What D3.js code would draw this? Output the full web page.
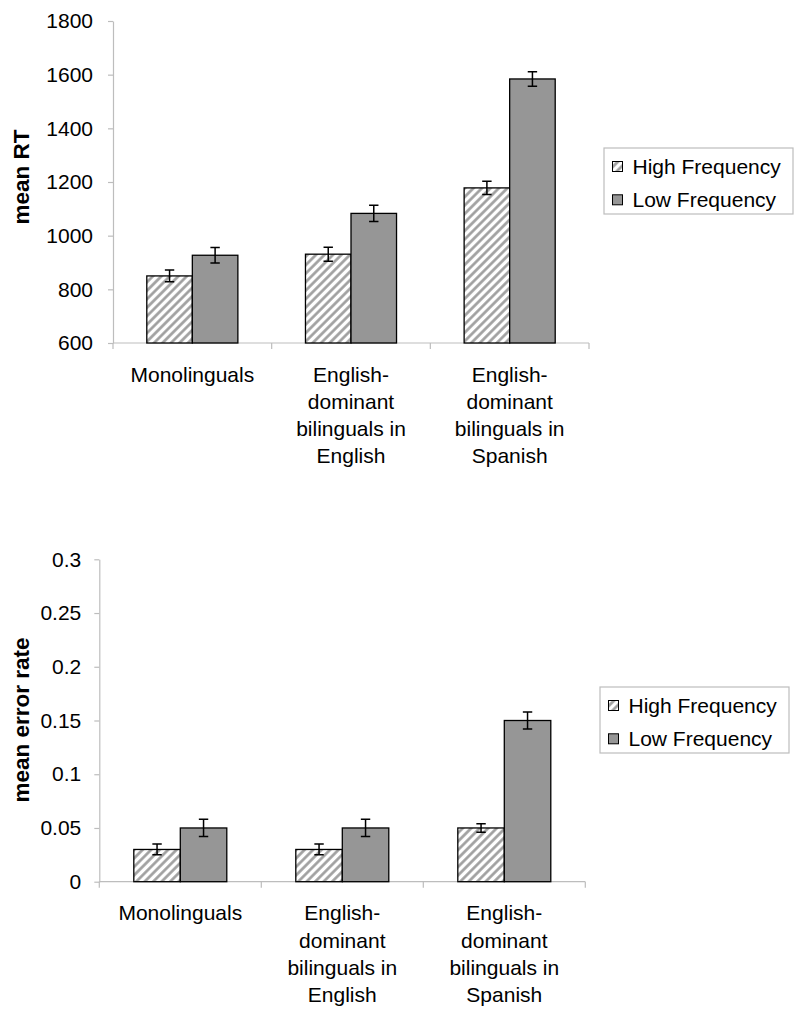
<!DOCTYPE html>
<html>
<head>
<meta charset="utf-8">
<script src="https://cdn.jsdelivr.net/npm/d3@7"></script>
<style>
  body { margin: 0; background: #fff; }
  text { font-family: "Liberation Sans", Arial, sans-serif; fill: #000; }
</style>
</head>
<body>
<svg id="chart" width="800" height="1015"></svg>
<script>
// data
const categories = [
    ['Monolinguals'],
    ['English-', 'dominant', 'bilinguals in', 'English'],
    ['English-', 'dominant', 'bilinguals in', 'Spanish']
];
const seriesNames = ['High Frequency', 'Low Frequency'];

const rtHigh = [850, 931, 1178];
const rtHighErr = [22, 26, 25];
const rtLow = [927, 1083, 1584];
const rtLowErr = [29, 30, 27];
const rtTicks = [600, 800, 1000, 1200, 1400, 1600, 1800];

const errHigh = [0.03, 0.03, 0.05];
const errHighErr = [0.005, 0.005, 0.004];
const errLow = [0.05, 0.05, 0.15];
const errLowErr = [0.008, 0.008, 0.008];
const errTicks = [0, 0.05, 0.1, 0.15, 0.2, 0.25, 0.3];

const axisColor = '#bdbdbd';
const grayFill = '#969696';
const fontSize = 21;

const svg = d3.select('#chart');

// diagonal hatch for the high frequency bars
const defs = svg.append('defs');
defs.append('pattern')
    .attr('id', 'hatch')
    .attr('patternUnits', 'userSpaceOnUse')
    .attr('width', 6)
    .attr('height', 6)
    .attr('patternTransform', 'rotate(45)')
    .call(p => {
        p.append('rect').attr('width', 6).attr('height', 6).attr('fill', '#fff');
        p.append('line')
            .attr('x1', 1.5).attr('y1', 0).attr('x2', 1.5).attr('y2', 6)
            .attr('stroke', '#9c9c9c').attr('stroke-width', 2.6);
    });

const drawPanel = (p) => {
    const g = svg.append('g');

    const x0 = d3.scaleBand()
        .domain(d3.range(categories.length))
        .range([p.left, p.right]);
    const bw = x0.bandwidth();
    const x1 = d3.scaleBand()
        .domain(seriesNames)
        .range([bw * 0.213, bw * 0.787]);
    const y = d3.scaleLinear()
        .domain([p.ticks[0], p.ticks[p.ticks.length - 1]])
        .range([p.bottom, p.top]);

    // y axis
    const yAxis = d3.axisLeft(y)
        .tickValues(p.ticks)
        .tickSize(5)
        .tickSizeOuter(0)
        .tickPadding(p.pad)
        .tickFormat(p.fmt);
    const ya = g.append('g')
        .attr('transform', `translate(${p.left},0)`)
        .call(yAxis);
    ya.select('.domain').attr('stroke', axisColor).attr('stroke-width', 1.2);
    ya.selectAll('.tick line').attr('stroke', axisColor).attr('stroke-width', 1.2);
    ya.selectAll('.tick text')
        .attr('font-size', fontSize)
        .attr('font-family', '"Liberation Sans", Arial, sans-serif')
        .attr('fill', '#000');

    // x axis line and category boundary ticks
    g.append('line')
        .attr('x1', p.left).attr('x2', p.right)
        .attr('y1', p.bottom).attr('y2', p.bottom)
        .attr('stroke', axisColor).attr('stroke-width', 1.2);
    const bounds = d3.range(categories.length + 1).map(i => i < categories.length ? x0(i) : p.right);
    g.selectAll('.xtick')
        .data(bounds)
        .enter()
        .append('line')
        .attr('x1', d => d).attr('x2', d => d)
        .attr('y1', p.bottom).attr('y2', p.bottom + 6)
        .attr('stroke', axisColor).attr('stroke-width', 1.2);

    // bars
    const rows = categories.map((c, i) => [
        { i, s: seriesNames[0], v: p.high[i], e: p.highErr[i] },
        { i, s: seriesNames[1], v: p.low[i], e: p.lowErr[i] }
    ]);
    const groups = g.selectAll('.grp')
        .data(rows)
        .enter()
        .append('g')
        .attr('transform', (d, i) => `translate(${x0(i)},0)`);

    groups.selectAll('rect')
        .data(d => d)
        .enter()
        .append('rect')
        .attr('x', d => x1(d.s))
        .attr('y', d => y(d.v))
        .attr('width', x1.bandwidth())
        .attr('height', d => p.bottom - y(d.v))
        .attr('fill', d => d.s === seriesNames[0] ? 'url(#hatch)' : grayFill)
        .attr('stroke', '#000')
        .attr('stroke-width', 1.3);

    // error bars
    const cap = 4.7;
    groups.selectAll('.err')
        .data(d => d)
        .enter()
        .append('path')
        .attr('d', d => {
            const cx = x1(d.s) + x1.bandwidth() / 2;
            const y1 = y(d.v + d.e), y2 = y(d.v - d.e);
            return `M${cx},${y1}V${y2}M${cx - cap},${y1}H${cx + cap}M${cx - cap},${y2}H${cx + cap}`;
        })
        .attr('fill', 'none')
        .attr('stroke', '#000')
        .attr('stroke-width', 1.5);

    // category labels
    const labels = g.selectAll('.cat')
        .data(categories)
        .enter()
        .append('text')
        .attr('text-anchor', 'middle')
        .attr('font-size', fontSize)
        .attr('x', (d, i) => x0(i) + bw / 2)
        .attr('y', p.bottom + 38.5);
    labels.selectAll('tspan')
        .data(d => d)
        .enter()
        .append('tspan')
        .attr('x', function () { return this.parentNode.getAttribute('x'); })
        .attr('dy', (d, j) => j === 0 ? 0 : 27.3)
        .text(d => d);

    // y axis title
    g.append('text')
        .attr('transform', `translate(${p.titleX},${p.titleY}) rotate(-90)`)
        .attr('text-anchor', 'middle')
        .attr('font-size', 22.5)
        .attr('font-weight', 'bold')
        .text(p.title);

    // legend
    const lg = g.append('g').attr('transform', `translate(${p.legX},${p.legY})`);
    lg.append('rect')
        .attr('width', 189).attr('height', 66)
        .attr('fill', '#fff')
        .attr('stroke', axisColor).attr('stroke-width', 1.2);
    seriesNames.forEach((name, k) => {
        const cy = 18.5 + k * 33.3;
        lg.append('rect')
            .attr('x', 8.5).attr('y', cy - 5)
            .attr('width', 10).attr('height', 10)
            .attr('fill', k === 0 ? 'url(#hatch)' : grayFill)
            .attr('stroke', '#000').attr('stroke-width', 1);
        lg.append('text')
            .attr('x', 28.5).attr('y', cy + 7.5)
            .attr('font-size', fontSize)
            .text(name);
    });
};

drawPanel({
    left: 113, right: 589, top: 21, bottom: 343,
    ticks: rtTicks, pad: 15, fmt: d3.format('d'),
    high: rtHigh, highErr: rtHighErr, low: rtLow, lowErr: rtLowErr,
    title: 'mean RT', titleX: 29, titleY: 177,
    legX: 604, legY: 148
});

drawPanel({
    left: 99.3, right: 585.3, top: 559.3, bottom: 881.7,
    ticks: errTicks, pad: 13, fmt: d => String(+d.toFixed(2)),
    high: errHigh, highErr: errHighErr, low: errLow, lowErr: errLowErr,
    title: 'mean error rate', titleX: 29, titleY: 720,
    legX: 600, legY: 687
});
</script>
</body>
</html>
